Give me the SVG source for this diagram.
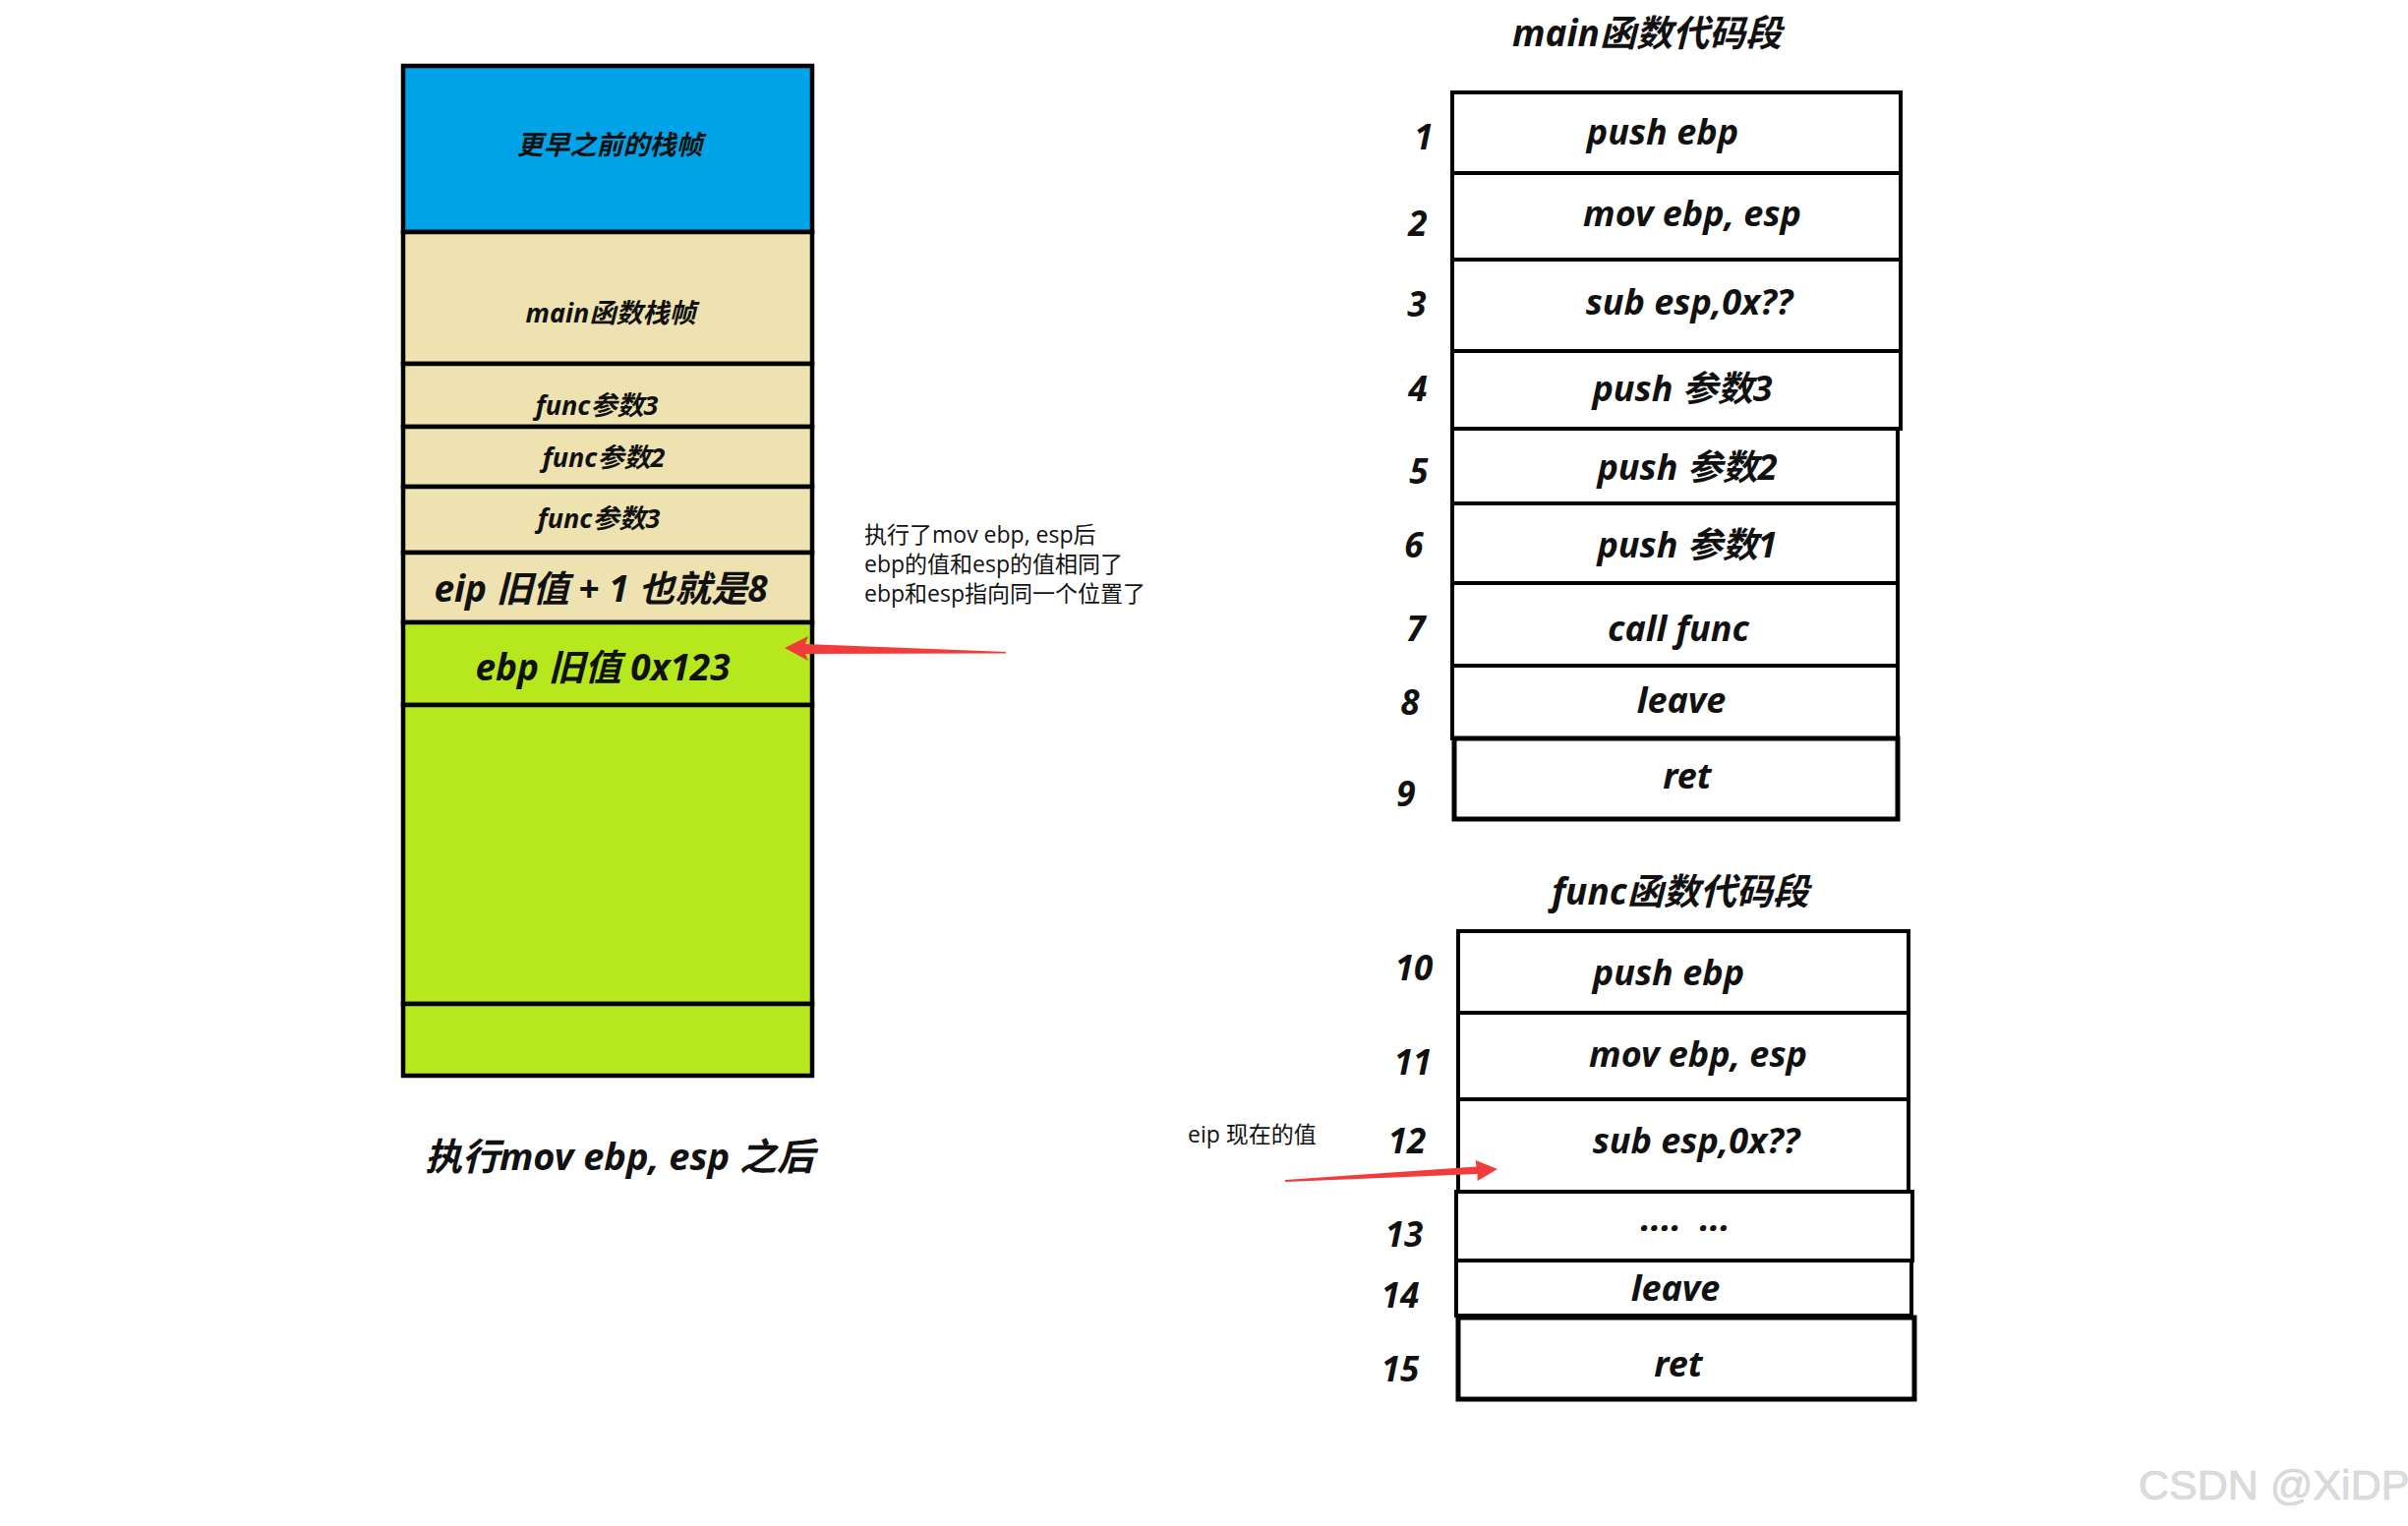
<svg xmlns="http://www.w3.org/2000/svg" width="2449" height="1552" viewBox="0 0 2449 1552">
<style>
.bi{font-family:"Noto Sans","Noto Sans CJK SC",sans-serif;font-weight:bold;font-style:italic;fill:#111;text-anchor:middle}
.s27{font-size:27px}
.s37{font-size:37px}
.s38{font-size:38px}
.title{font-size:37px}
.code{font-size:36px}
.num{font-family:"Noto Sans",sans-serif;font-weight:bold;font-style:italic;font-size:35px;fill:#111;text-anchor:middle}
.note{font-family:"Open Sans","Noto Sans CJK SC",sans-serif;font-size:23px;fill:#111}
.cell{stroke:#000;stroke-width:4.5}
.box{fill:#fff;stroke:#000;stroke-width:4}
.box5{fill:#fff;stroke:#000;stroke-width:5}
.blue{fill:#00A2E8}
.beige{fill:#EEE3B0}
.green{fill:#B7E81E}
.arrow{fill:#F23C3C}
</style>
<rect width="2449" height="1552" fill="#fff"/>

<g id="stack">
  <g id="s1"><rect class="cell blue" x="410" y="67" width="416" height="169"/><text class="bi s27" x="620" y="157">更早之前的栈帧</text></g>
  <g id="s2"><rect class="cell beige" x="410" y="236" width="416" height="134"/><text class="bi s27" x="621" y="328">main函数栈帧</text></g>
  <g id="s3"><rect class="cell beige" x="410" y="370" width="416" height="64"/><text class="bi s27" x="607" y="422">func参数3</text></g>
  <g id="s4"><rect class="cell beige" x="410" y="434" width="416" height="61"/><text class="bi s27" x="614" y="475">func参数2</text></g>
  <g id="s5"><rect class="cell beige" x="410" y="495" width="416" height="67"/><text class="bi s27" x="609" y="537">func参数3</text></g>
  <g id="s6"><rect class="cell beige" x="410" y="562" width="416" height="71"/><text class="bi s37" x="611" y="612">eip 旧值 + 1 也就是8</text></g>
  <g id="s7"><rect class="cell green" x="410" y="633" width="416" height="84"/><text class="bi s37" x="613" y="692">ebp 旧值 0x123</text></g>
  <g id="s8"><rect class="cell green" x="410" y="717" width="416" height="304"/></g>
  <g id="s9"><rect class="cell green" x="410" y="1021" width="416" height="73"/></g>
</g>
<text id="stack-caption" class="bi s38" x="630" y="1190">执行mov ebp, esp 之后</text>

<g id="note1">
  <text class="note" x="879" y="552">执行了mov ebp, esp后</text>
  <text class="note" x="879" y="582">ebp的值和esp的值相同了</text>
  <text class="note" x="879" y="612">ebp和esp指向同一个位置了</text>
</g>
<text id="note2" class="note" x="1208" y="1162">eip 现在的值</text>

<text id="main-title" class="bi title" x="1675" y="47">main函数代码段</text>
<g id="main-code">
  <g id="m1"><rect class="box" x="1477" y="94" width="456" height="82"/><text class="bi code" x="1691" y="147">push ebp</text><text class="num" x="1448" y="152">1</text></g>
  <g id="m2"><rect class="box" x="1477" y="176" width="456" height="88"/><text class="bi code" x="1721" y="230">mov ebp, esp</text><text class="num" x="1442" y="240">2</text></g>
  <g id="m3"><rect class="box" x="1477" y="264" width="456" height="93"/><text class="bi code" x="1718" y="320">sub esp,0x??</text><text class="num" x="1441" y="322">3</text></g>
  <g id="m4"><rect class="box" x="1477" y="357" width="456" height="79"/><text class="bi code" x="1711" y="408">push 参数3</text><text class="num" x="1442" y="408">4</text></g>
  <g id="m5"><rect class="box" x="1477" y="436" width="453" height="76"/><text class="bi code" x="1716" y="488">push 参数2</text><text class="num" x="1443" y="492">5</text></g>
  <g id="m6"><rect class="box" x="1477" y="512" width="453" height="81"/><text class="bi code" x="1716" y="567">push 参数1</text><text class="num" x="1438" y="567">6</text></g>
  <g id="m7"><rect class="box" x="1477" y="593" width="453" height="84"/><text class="bi code" x="1707" y="652">call func</text><text class="num" x="1440" y="652">7</text></g>
  <g id="m8"><rect class="box" x="1477" y="677" width="453" height="74"/><text class="bi code" x="1710" y="725">leave</text><text class="num" x="1434" y="727">8</text></g>
  <g id="m9"><rect class="box5" x="1479" y="751" width="451" height="82"/><text class="bi code" x="1716" y="802">ret</text><text class="num" x="1430" y="820">9</text></g>
</g>

<text id="func-title" class="bi title" x="1709" y="920">func函数代码段</text>
<g id="func-code">
  <g id="f10"><rect class="box" x="1483" y="947" width="458" height="83"/><text class="bi code" x="1697" y="1002">push ebp</text><text class="num" x="1438" y="997">10</text></g>
  <g id="f11"><rect class="box" x="1483" y="1030" width="458" height="88"/><text class="bi code" x="1727" y="1085">mov ebp, esp</text><text class="num" x="1437" y="1093">11</text></g>
  <g id="f12"><rect class="box" x="1483" y="1118" width="458" height="94"/><text class="bi code" x="1725" y="1173">sub esp,0x??</text><text class="num" x="1431" y="1173">12</text></g>
  <g id="f13"><rect class="box" x="1481" y="1212" width="464" height="70"/><text class="bi code" x="1712" y="1262">····&#160;&#160;···</text><text class="num" x="1428" y="1268">13</text></g>
  <g id="f14"><rect class="box" x="1481" y="1282" width="463" height="56"/><text class="bi code" x="1704" y="1323">leave</text><text class="num" x="1424" y="1330">14</text></g>
  <g id="f15"><rect class="box5" x="1483" y="1340" width="464" height="83"/><text class="bi code" x="1707" y="1400">ret</text><text class="num" x="1424" y="1405">15</text></g>
</g>

<g id="connectors">
  <polygon class="arrow" points="798,659 822,647 819,655 1023,663 1023,664.5 819,665 822,672"/>
  <polygon class="arrow" points="1523,1189 1500.7,1180 1501.5,1186.5 1307,1200 1307,1202 1502.5,1194 1502.7,1201"/>
</g>

<text id="watermark" x="2175" y="1525" font-family="'Liberation Sans',Arial,sans-serif" font-size="43" fill="#dcdcdc" stroke="#cfcfcf" stroke-width="0.6">CSDN @XiDP</text>
</svg>
